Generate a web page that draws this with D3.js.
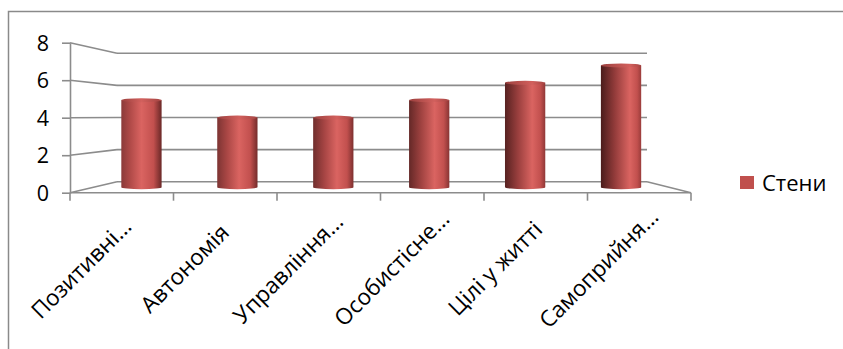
<!DOCTYPE html>
<html>
<head>
<meta charset="utf-8">
<script src="https://cdn.jsdelivr.net/npm/d3@7"></script>
<style>
  html, body { margin: 0; padding: 0; background: #fff; }
  svg { display: block; }
  text { font-family: "Open Sans", "Noto Sans", sans-serif; fill: #000; }
</style>
</head>
<body>
<svg id="chart" width="843" height="349"></svg>
<script>
// Category names, series and values
const categories = ["Позитивні…", "Автономія", "Управління…", "Особистісне…", "Цілі у житті", "Самоприйня…"];
const seriesName = "Стени";
const values = [5, 4, 4, 5, 6, 7];
const yTicks = [0, 2, 4, 6, 8];

const svg = d3.select("#chart");
const gridColor = "#8c8c8c";

// Front and back planes of the 3-D box
const xFront = d3.scaleBand().domain(categories).range([70, 691]);
const xBack = d3.scaleBand().domain(categories).range([117, 647]);
const yFront = d3.scaleLinear().domain([0, 8]).range([192.7, 42.7]);
const yBack = d3.scaleLinear().domain([0, 8]).range([181.7, 53.3]);

// Cylinders stand halfway between the front and back planes
const depth = 0.5;
const lerp = (a, b, t) => a + (b - a) * t;
const xMid = d3.scaleBand().domain(categories)
  .range([lerp(xFront.range()[0], xBack.range()[0], depth), lerp(xFront.range()[1], xBack.range()[1], depth)])
  .paddingInner(0.58).paddingOuter(0.29);
const yMid = d3.scaleLinear().domain([0, 8])
  .range([lerp(yFront.range()[0], yBack.range()[0], depth), lerp(yFront.range()[1], yBack.range()[1], depth)]);

// Outer chart frame
svg.append("rect")
  .attr("x", 8.5).attr("y", 11.5).attr("width", 900).attr("height", 400)
  .attr("fill", "none").attr("stroke", "#8a8a8a").attr("stroke-width", 1.5);

const walls = svg.append("g").attr("stroke", gridColor).attr("stroke-width", 1.6).attr("fill", "none");

// Back wall gridlines
walls.selectAll("line.back").data(yTicks).join("line")
  .attr("class", "back")
  .attr("x1", xBack.range()[0]).attr("x2", xBack.range()[1])
  .attr("y1", d => yBack(d)).attr("y2", d => yBack(d));

// Side wall gridlines
walls.selectAll("line.side").data(yTicks).join("line")
  .attr("class", "side")
  .attr("x1", xFront.range()[0]).attr("x2", xBack.range()[0])
  .attr("y1", d => yFront(d)).attr("y2", d => yBack(d));

// Right edge of the floor
walls.append("line")
  .attr("x1", xBack.range()[1]).attr("y1", yBack(0))
  .attr("x2", xFront.range()[1]).attr("y2", yFront(0));

// Value axis
const yAxis = d3.axisLeft(yFront).tickValues(yTicks).tickSize(8).tickSizeOuter(0).tickPadding(13);
const gy = svg.append("g").attr("transform", `translate(${xFront.range()[0]},0)`).call(yAxis);
gy.select(".domain").attr("stroke", gridColor).attr("stroke-width", 1.6);
gy.selectAll(".tick line").attr("stroke", gridColor).attr("stroke-width", 1.6);
gy.selectAll(".tick text").style("font-size", "21.5px").attr("dy", "0.36em");

// Category axis: baseline plus ticks on band boundaries
const bounds = categories.map(c => xFront(c)).concat([xFront.range()[1]]);
const gx = svg.append("g").attr("stroke", gridColor).attr("stroke-width", 1.6);
gx.append("line")
  .attr("x1", xFront.range()[0]).attr("x2", xFront.range()[1])
  .attr("y1", yFront(0)).attr("y2", yFront(0));
gx.selectAll("line.tk").data(bounds).join("line")
  .attr("class", "tk")
  .attr("x1", d => d).attr("x2", d => d)
  .attr("y1", yFront(0)).attr("y2", yFront(0) + 8);

// Rotated category labels
svg.append("g").selectAll("text").data(categories).join("text")
  .attr("transform", d => `translate(${xFront(d) + xFront.bandwidth() / 2 - 41},268) rotate(-45)`)
  .attr("text-anchor", "middle")
  .attr("dominant-baseline", "central")
  .style("font-size", "22.5px")
  .text(d => d);

// Shading of each cylinder shifts with its place across the view
const defs = svg.append("defs");
const n = categories.length;
categories.forEach((c, i) => {
  const t = i / (n - 1);
  const g = defs.append("linearGradient").attr("id", "cyl" + i)
    .attr("x1", "0").attr("x2", "1").attr("y1", "0").attr("y2", "0");
  g.append("stop").attr("offset", "0").attr("stop-color", d3.interpolateRgb("#8a3a39", "#4a1c1b")(t));
  g.append("stop").attr("offset", lerp(0.22, 0.35, t)).attr("stop-color", d3.interpolateRgb("#b04a48", "#943c3b")(t));
  g.append("stop").attr("offset", lerp(0.5, 0.72, t)).attr("stop-color", "#da6461");
  g.append("stop").attr("offset", lerp(0.8, 0.9, t)).attr("stop-color", "#c2504e");
  g.append("stop").attr("offset", "1").attr("stop-color", d3.interpolateRgb("#6a2827", "#9a3c3b")(t));
  const gt = defs.append("linearGradient").attr("id", "cap" + i)
    .attr("x1", "0").attr("x2", "1").attr("y1", "0").attr("y2", "0");
  gt.append("stop").attr("offset", "0").attr("stop-color", "#9c403e");
  gt.append("stop").attr("offset", lerp(0.5, 0.72, t)).attr("stop-color", "#d2605d");
  gt.append("stop").attr("offset", "1").attr("stop-color", "#a54442");
});

const ry = 2;
const bars = svg.append("g").selectAll("g").data(values).join("g");
bars.append("path")
  .attr("fill", (d, i) => `url(#cyl${i})`)
  .attr("d", (d, i) => {
    const x0 = xMid(categories[i]), w = xMid.bandwidth();
    const yb = yMid(0), yt = yMid(d);
    return `M${x0},${yt} L${x0},${yb} A${w / 2},${ry} 0 0 0 ${x0 + w},${yb} L${x0 + w},${yt} Z`;
  });
bars.append("ellipse")
  .attr("cx", (d, i) => xMid(categories[i]) + xMid.bandwidth() / 2)
  .attr("cy", d => yMid(d))
  .attr("rx", xMid.bandwidth() / 2)
  .attr("ry", ry)
  .attr("fill", (d, i) => `url(#cap${i})`);

// Legend
const lg = svg.append("g").attr("transform", "translate(740,176)");
lg.append("rect").attr("width", 14).attr("height", 13).attr("fill", "#c0504d");
lg.append("text").attr("x", 22).attr("y", 14.5).style("font-size", "22px").text(seriesName);
</script>
</body>
</html>
